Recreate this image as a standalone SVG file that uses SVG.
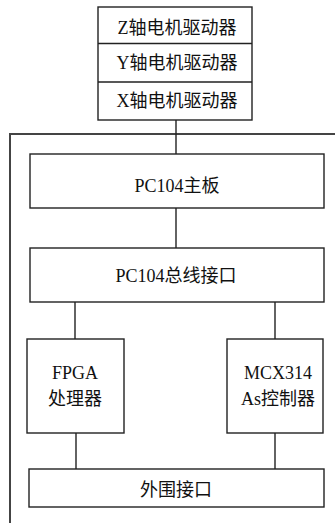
<svg xmlns="http://www.w3.org/2000/svg" width="335" height="523" viewBox="0 0 335 523">
<style>
.b{fill:#fff;stroke:#222;stroke-width:1.4}
.c{fill:none;stroke:#222;stroke-width:1.4}
.f{fill:none;stroke:#444;stroke-width:2}
text{font-family:"Liberation Serif","Noto Sans CJK SC",serif;font-size:18px;fill:#111;text-anchor:middle}
</style>
<rect width="335" height="523" fill="#fff"/>
<path class="f" d="M10 523V134H335"/>
<g id="connectors">
<path class="c" d="M176 120V154"/>
<path class="c" d="M176 208V248"/>
<path class="c" d="M75 302V339"/>
<path class="c" d="M275 302V339"/>
<path class="c" d="M76 433V469"/>
<path class="c" d="M275 433V469"/>
</g>
<g id="drivers">
<rect class="b" x="98" y="7" width="154" height="113"/>
<path class="c" d="M98 43.5H252M98 82H252"/>
<text x="177" y="34">Z轴电机驱动器</text>
<text x="177" y="69">Y轴电机驱动器</text>
<text x="177" y="107">X轴电机驱动器</text>
</g>
<g id="pc104">
<rect class="b" x="30" y="154" width="294" height="54"/>
<text x="177" y="192">PC104主板</text>
</g>
<g id="bus">
<rect class="b" x="30" y="248" width="294" height="54"/>
<text x="176" y="282">PC104总线接口</text>
</g>
<g id="fpga">
<rect class="b" x="27" y="339" width="97" height="94"/>
<text x="75" y="379">FPGA</text>
<text x="75" y="405">处理器</text>
</g>
<g id="mcx">
<rect class="b" x="227" y="339" width="96" height="94"/>
<text x="278" y="379">MCX314</text>
<text x="278" y="405">As控制器</text>
</g>
<g id="periph">
<rect class="b" x="29" y="469" width="295" height="38"/>
<text x="176" y="496">外围接口</text>
</g>
</svg>
